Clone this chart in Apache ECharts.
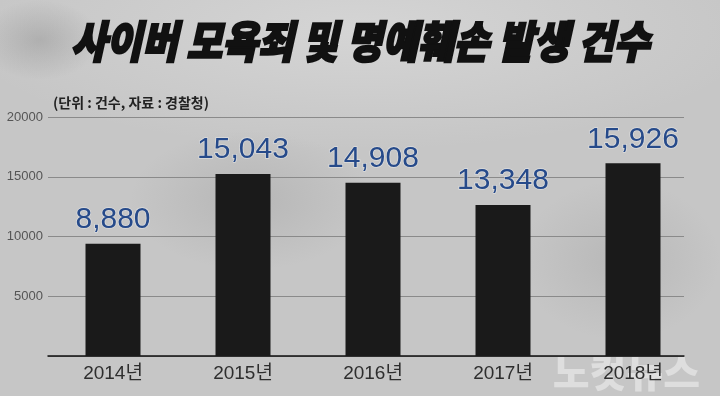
<!DOCTYPE html>
<html><head><meta charset="utf-8">
<script src="https://cdn.jsdelivr.net/npm/echarts@6/dist/echarts.min.js"></script>
<style>
html,body{margin:0;padding:0;}
#c{width:720px;height:396px;
background:
 radial-gradient(ellipse 60px 40px at 40px 40px, rgba(100,100,100,0.25), rgba(100,100,100,0) 100%),
 radial-gradient(ellipse 120px 70px at 250px 200px, rgba(120,120,120,0.2), rgba(120,120,120,0) 100%),
 radial-gradient(ellipse 100px 80px at 620px 260px, rgba(120,120,120,0.18), rgba(120,120,120,0) 100%),
 radial-gradient(ellipse 400px 120px at 360px 30px, rgba(225,225,225,0.55), rgba(225,225,225,0) 100%),
 #c6c6c6;}
</style></head>
<body><div id="c"></div>
<script>
const categories = ['2014년','2015년','2016년','2017년','2018년'];
const barHeights = [9400, 15230, 14500, 12640, 16130];
const valueLabels = ['8,880','15,043','14,908','13,348','15,926'];
const yTicks = [0, 5000, 10000, 15000, 20000];
const titleText = '사이버 모욕죄 및 명예훼손 발생 건수';
const noteText = '(단위 : 건수, 자료 : 경찰청)';

const chart = echarts.init(document.getElementById('c'), null, {renderer:'canvas'});
chart.setOption({
  backgroundColor: 'transparent',
  animation: false,
  grid: [
    {left:48, right:36, top:117, bottom:40},
    {left:48, right:22, top:117, bottom:40}
  ],
  xAxis: [
    {gridIndex:0, type:'value', min:0, max:1, axisLabel:{show:false}, splitLine:{show:false}, axisTick:{show:false},
     axisLine:{show:true, onZero:false, lineStyle:{color:'#111', width:1.5}}},
    {gridIndex:1, type:'category', data:categories, axisLine:{show:false}, axisTick:{show:false},
     axisLabel:{color:'#2e2e2e', fontSize:19, fontFamily:'Liberation Sans, Arial, Noto Sans CJK KR', margin:8}}
  ],
  yAxis: [
    {gridIndex:0, type:'value', min:yTicks[0], max:yTicks[yTicks.length-1], interval:yTicks[1]-yTicks[0],
     axisLine:{show:false}, axisTick:{show:false},
     axisLabel:{showMinLabel:false, color:'#555', fontSize:13, fontFamily:'Liberation Sans, Arial', margin:5,
       formatter: v => String(v)},
     splitLine:{lineStyle:{color:'#8a8a8a', width:1}}},
    {gridIndex:1, type:'value', min:yTicks[0], max:yTicks[yTicks.length-1], show:false, splitLine:{show:false}}
  ],
  series: [{
    type:'bar', xAxisIndex:1, yAxisIndex:1, data:barHeights, barWidth:55,
    itemStyle:{color:'#1a1a1a'},
    label:{show:true, position:'top', distance:9, color:'#264a8a', fontSize:30,
      fontFamily:'Liberation Sans, Arial', textBorderColor:'rgba(235,235,235,0.6)', textBorderWidth:1.5,
      formatter: p => valueLabels[p.dataIndex]}
  }],
  graphic: [
    {type:'text', left:'center', top:18, style:{text:titleText, fill:'#111', stroke:'#111', lineWidth:2.2,
      font:'italic 900 44px "Noto Sans CJK KR"'},
     scaleX:0.88, originX:360, originY:40},
    {type:'text', left:53, top:96, style:{text:noteText, fill:'#222', font:'bold 14px "Noto Sans CJK KR"'}},
    {type:'text', right:20, bottom:4, style:{text:'노컷뉴스', fill:'rgba(245,245,245,0.5)', font:'900 40px "Noto Sans CJK KR"'}}
  ]
});
</script></body></html>
